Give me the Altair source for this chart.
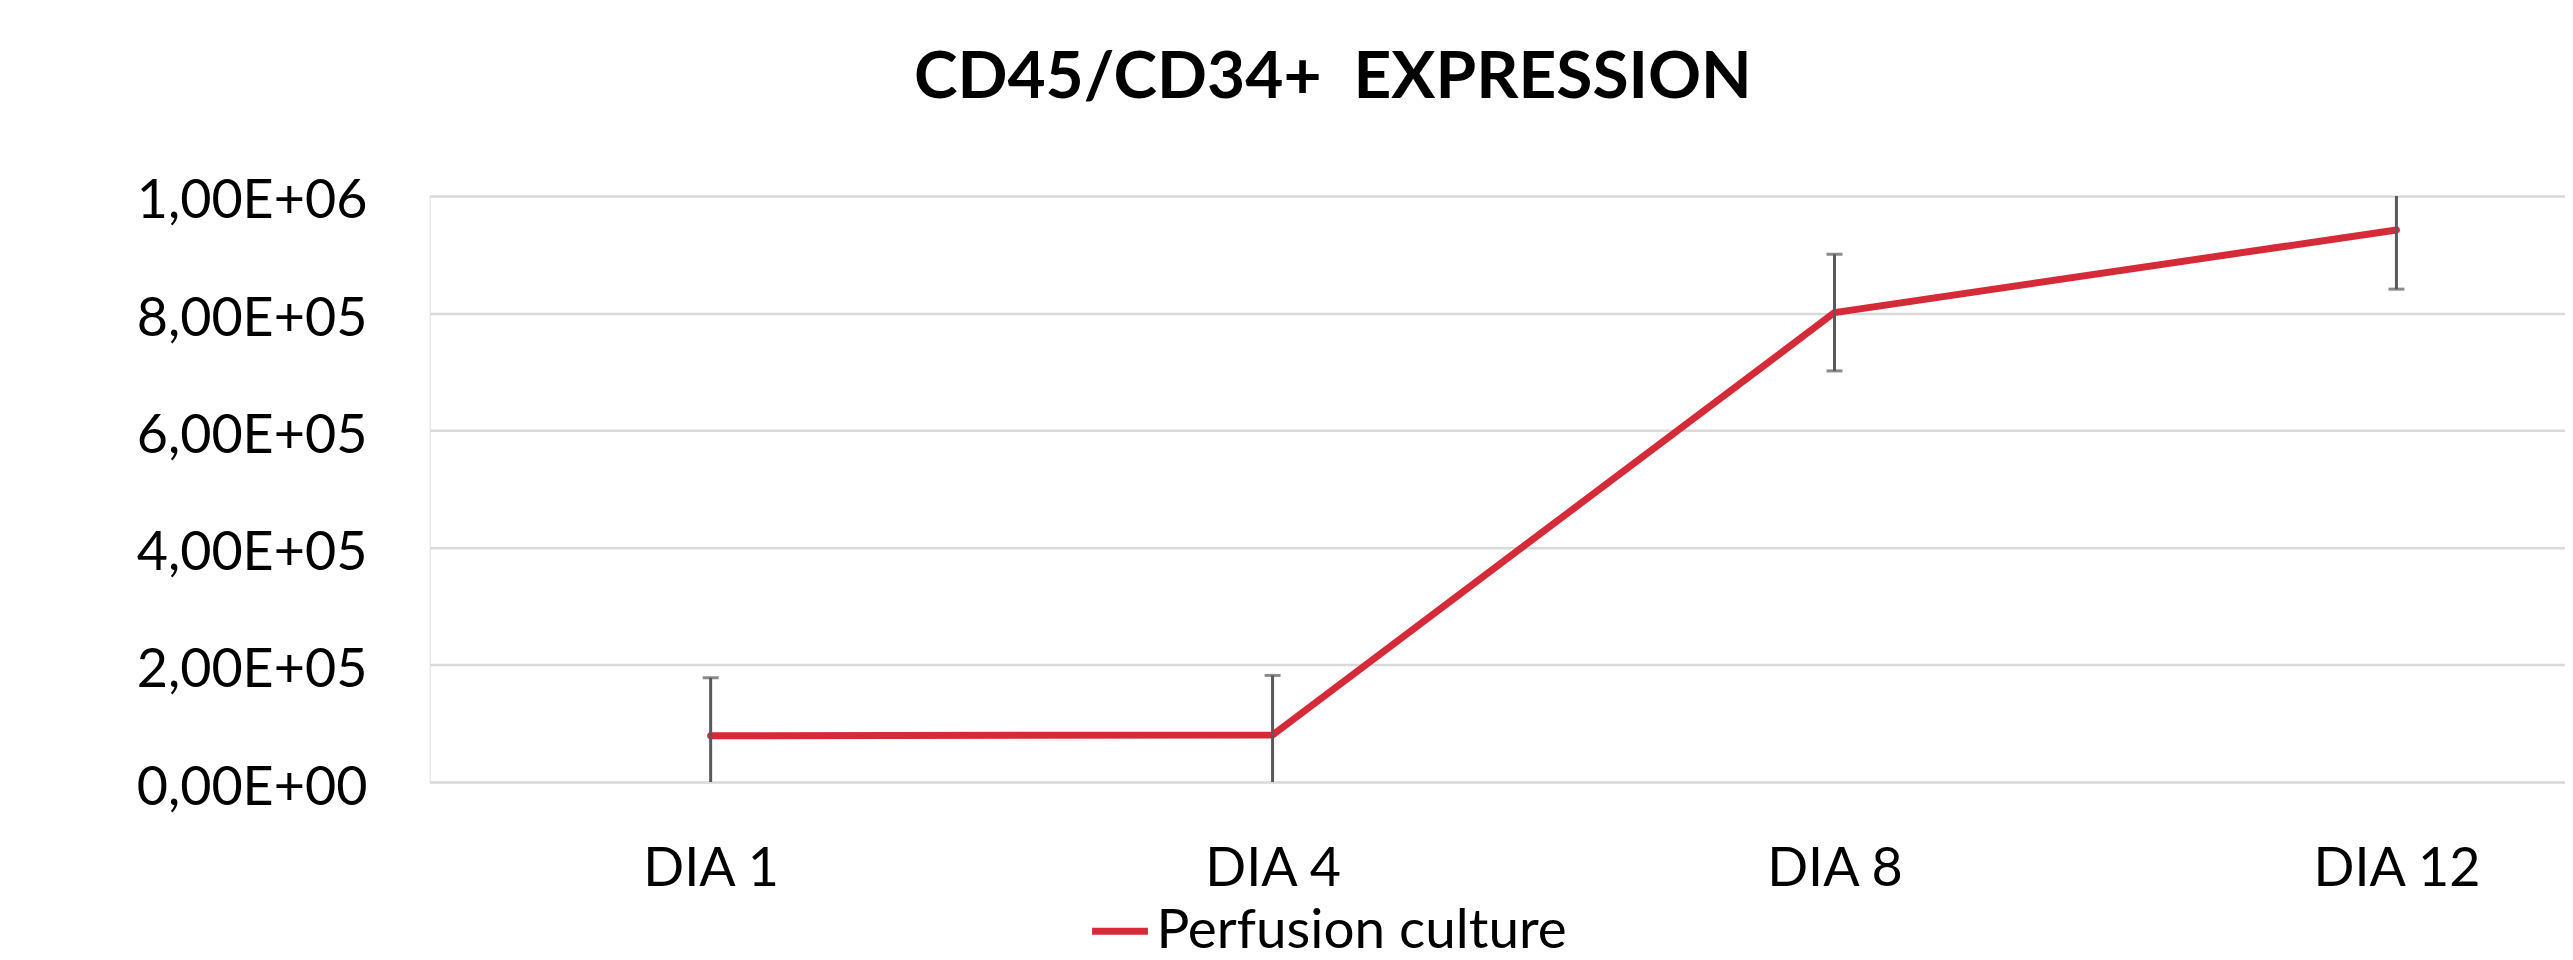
import json
import altair as alt
import pandas as pd

days = ["DIA 1", "DIA 4", "DIA 8", "DIA 12"]
values = [79000, 80500, 801000, 942000]
errors = [99000, 101500, 99500, 101000]
series_name = "Perfusion culture"
title_text = "CD45/CD34+\u00a0 EXPRESSION"
y_ticks = [0, 200000, 400000, 600000, 800000, 1000000]
y_tick_labels = ["0,00E+00", "2,00E+05", "4,00E+05", "6,00E+05", "8,00E+05", "1,00E+06"]

df = pd.DataFrame({
    "idx": list(range(len(days))),
    "day": days,
    "value": values,
    "err": errors,
    "series": [series_name] * len(days),
})
df["lo"] = (df["value"] - df["err"]).clip(lower=0)
df["hi"] = df["value"] + df["err"]

RED = "#D52A37"
GREY = "#595959"
FONT = "Lato"

label_expr_x = json.dumps(days) + "[datum.value]"
label_map_y = dict(zip([str(v) for v in y_ticks], y_tick_labels))
label_expr_y = json.dumps(label_map_y) + "[''+datum.value]"

x_scale = alt.Scale(domain=[-0.5, 3.3], nice=False, zero=False)
y_scale = alt.Scale(domain=[0, 1000000], nice=False)

base = alt.Chart(df)

x_enc = alt.X(
    "idx:Q",
    scale=x_scale,
    axis=alt.Axis(
        values=list(range(len(days))),
        labelExpr=label_expr_x,
        title=None,
        grid=False,
        ticks=False,
        domain=False,
        labelFont=FONT,
        labelFontSize=54,
        labelColor="#000000",
        labelBaseline="alphabetic",
        labelPadding=104,
        labelFlush=False,
        labelOverlap=False,
        labelLimit=1000,
    ),
)

y_enc = alt.Y(
    "value:Q",
    scale=y_scale,
    axis=alt.Axis(
        values=y_ticks,
        labelExpr=label_expr_y,
        title=None,
        grid=True,
        gridColor="#D9D9D9",
        gridWidth=2.5,
        ticks=False,
        domain=False,
        labelFont=FONT,
        labelFontSize=54,
        labelColor="#000000",
        labelBaseline="alphabetic",
        labelOffset=22,
        labelPadding=63,
        labelFlush=False,
        labelOverlap=False,
        labelLimit=1000,
    ),
)

err_rule = base.mark_rule(color=GREY, strokeWidth=3, clip=True).encode(
    x=alt.X("idx:Q", scale=x_scale),
    y=alt.Y("lo:Q", scale=y_scale),
    y2="hi:Q",
)

cap_hi = base.mark_tick(color=GREY, thickness=3, size=16, orient="horizontal", clip=True).encode(
    x=alt.X("idx:Q", scale=x_scale),
    y=alt.Y("hi:Q", scale=y_scale),
)
cap_lo = base.transform_filter("datum.value - datum.err > 0").mark_tick(
    color=GREY, thickness=3, size=16, orient="horizontal", clip=True
).encode(
    x=alt.X("idx:Q", scale=x_scale),
    y=alt.Y("lo:Q", scale=y_scale),
)

line = base.mark_line(strokeWidth=7, strokeCap="round", strokeJoin="round").encode(
    x=x_enc,
    y=y_enc,
    color=alt.Color(
        "series:N",
        scale=alt.Scale(domain=[series_name], range=[RED]),
        legend=alt.Legend(
            title=None,
            orient="none",
            legendX=661,
            legendY=706,
            padding=0,
            symbolType="stroke",
            symbolSize=3136,
            symbolStrokeWidth=7,
            labelFont=FONT,
            labelFontSize=55,
            labelColor="#000000",
            labelOffset=5,
            labelLimit=1000,
        ),
    ),
)

chart = (
    alt.layer(line, err_rule, cap_hi, cap_lo)
    .properties(
        width=2142,
        height=588,
        autosize=alt.AutoSizeParams(type="none"),
        padding={"left": 423, "top": 187, "right": 0, "bottom": 200},
        title=alt.TitleParams(
            text=title_text,
            font=FONT,
            fontSize=66,
            fontWeight="bold",
            color="#000000",
            anchor="middle",
            frame="group",
            dx=-165,
            dy=86,
            offset=97,
            baseline="alphabetic",
        ),
    )
    .configure_view(stroke=None)
    .configure(background="#FFFFFF")
)

chart.save("out.html", embed_options={"renderer": "svg", "actions": False})
